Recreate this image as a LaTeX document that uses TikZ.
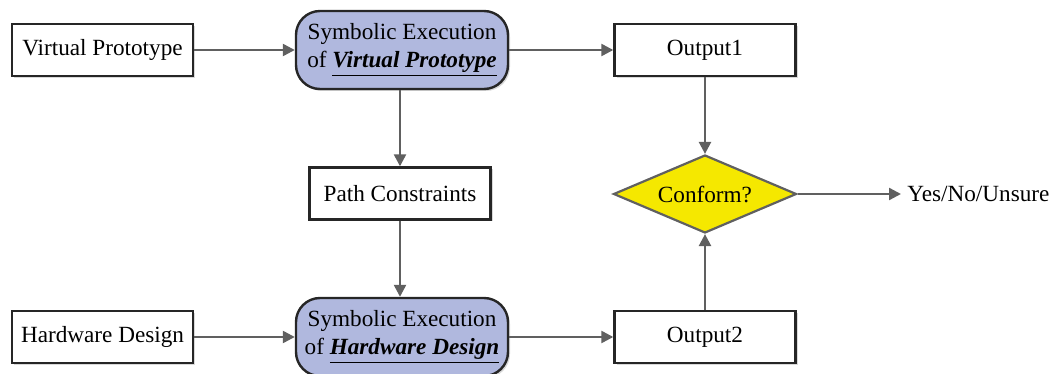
\documentclass[tikz,border=0pt]{standalone}
\usepackage{fontspec}
\setmainfont{Liberation Serif}
\usetikzlibrary{shapes.geometric,arrows.meta,shadows}
\definecolor{sefill}{RGB}{176,184,222}
\definecolor{diayel}{RGB}{245,232,0}
\definecolor{arrgray}{RGB}{96,96,96}
\begin{document}
\begin{tikzpicture}[x=0.5pt,y=-0.5pt,
  font=\fontsize{11.6pt}{13.6pt}\selectfont,
  plainbox/.style={draw=black!85,line width=1.2pt,fill=white,minimum width=90.5pt,minimum height=26pt,inner sep=0pt,
    drop shadow={shadow xshift=1pt,shadow yshift=-1pt,fill=black!25,opacity=0.6}},
  sebox/.style={draw=black!85,line width=1.2pt,fill=sefill,rounded corners=12pt,minimum width=106pt,minimum height=39pt,inner sep=0pt,align=center,
    drop shadow={shadow xshift=1pt,shadow yshift=-1pt,fill=black!25,opacity=0.6}},
  decide/.style={diamond,draw=arrgray,line width=1.1pt,fill=diayel,minimum width=91.5pt,minimum height=39pt,inner sep=0pt,aspect=2.35},
  flow/.style={draw=arrgray,line width=1.2pt,-{Triangle[length=6pt,width=6pt]}}]
\useasboundingbox (0,0) rectangle (1057,374);
\node[plainbox] (vp) at (102.5,50) {Virtual Prototype};
\node[sebox] (sevp) at (402,50) {Symbolic Execution\\of \underline{\textbf{\textit{Virtual Prototype}}}};
\node[plainbox] (o1) at (705,50) {Output1};
\node[plainbox] (pc) at (400,193.5) {Path Constraints};
\node[decide] (conf) at (705,194) {Conform?};
\node[anchor=west,inner sep=0pt] (res) at (907,194) {Yes/No/Unsure};
\node[plainbox] (hd) at (102.5,337) {Hardware Design};
\node[sebox] (sehd) at (402,337) {Symbolic Execution\\of \underline{\textbf{\textit{Hardware Design}}}};
\node[plainbox] (o2) at (705,337) {Output2};
\draw[flow] (vp) -- (sevp);
\draw[flow] (sevp) -- (o1);
\draw[flow] (sevp.south -| pc.north) -- (pc.north);
\draw[flow] (pc.south) -- (sehd.north -| pc.south);
\draw[flow] (o1) -- (conf.north);
\draw[flow] (o2) -- (conf.south);
\draw[flow] (conf.east) -- ([xshift=-3pt]res.west);
\draw[flow] (hd) -- (sehd);
\draw[flow] (sehd) -- (o2);
\end{tikzpicture}
\end{document}
